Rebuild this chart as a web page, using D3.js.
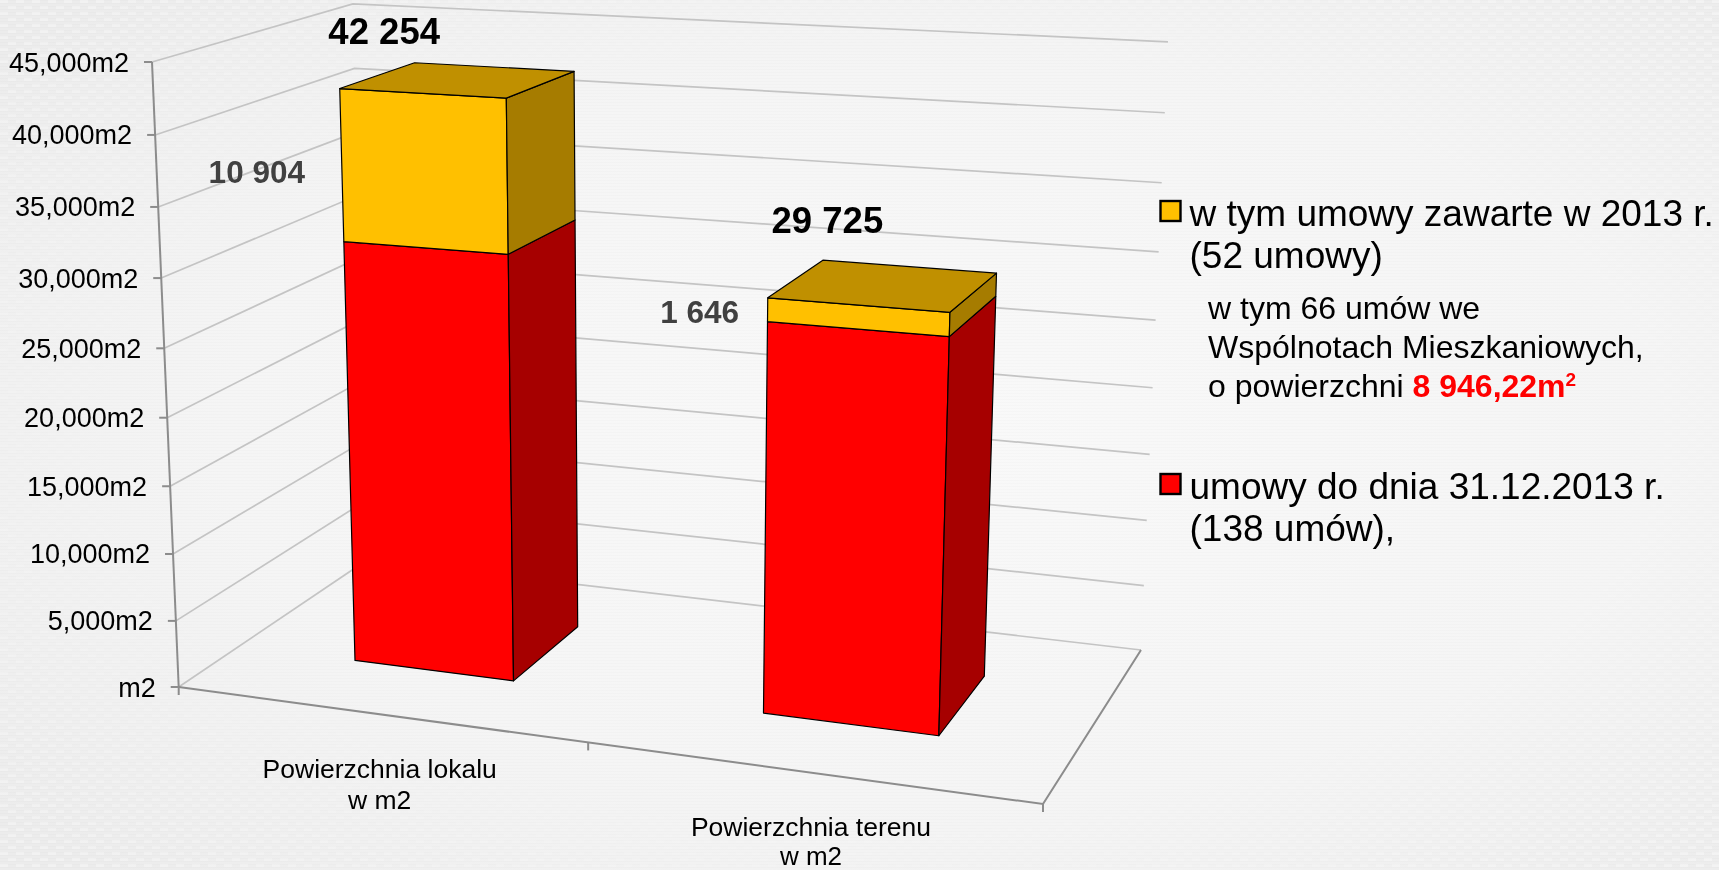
<!DOCTYPE html>
<html lang="en">
<head>
    <meta charset="UTF-8">
    <title>Powierzchnia lokalu i terenu</title>
    <script src="https://d3js.org/d3.v7.min.js"></script>
    <style>
        html, body { margin: 0; padding: 0; background: #efefef; overflow: hidden; }
        svg { display: block; filter: blur(0.55px); }
        text { font-family: "Liberation Sans", Arial, sans-serif; fill: #000; }
    </style>
</head>
<body>
    <svg width="1719" height="870"></svg>

    <script>
        // data
        const categories = ["Powierzchnia lokalu", "Powierzchnia terenu"];
        const categorySecondLine = ["w  m2", "w m2"];
        const untilEnd2013 = [31350, 28079];
        const signedIn2013 = [10904, 1646];
        const totalLabels = ["42 254", "29 725"];
        const partLabels = ["10 904", "1 646"];
        const tickValues = [0, 5000, 10000, 15000, 20000, 25000, 30000, 35000, 40000, 45000];

        const legendYellow = ["w tym umowy zawarte w 2013 r.", "(52 umowy)"];
        const legendNote = ["w tym 66 umów we", "Wspólnotach Mieszkaniowych,", "o powierzchni "];
        const legendNoteValue = "8 946,22m";
        const legendRed = ["umowy do dnia 31.12.2013 r.", "(138 umów),"];

        const svg = d3.select("svg");

        // background: soft vignette, fine horizontal stripes, faint weave only towards the edges
        const defs = svg.append("defs");
        const glow = defs.append("radialGradient").attr("id", "glow").attr("cx", "55%").attr("cy", "50%").attr("r", "70%");
        glow.append("stop").attr("offset", "0%").attr("stop-color", "#f9f9f9");
        glow.append("stop").attr("offset", "60%").attr("stop-color", "#f5f5f5");
        glow.append("stop").attr("offset", "100%").attr("stop-color", "#ececec");

        const stripes = defs.append("pattern").attr("id", "stripes").attr("width", 4).attr("height", 3).attr("patternUnits", "userSpaceOnUse");
        stripes.append("rect").attr("width", 4).attr("height", 1).attr("fill", "#000").attr("opacity", 0.012);

        const weave = defs.append("pattern").attr("id", "weave").attr("width", 16).attr("height", 12).attr("patternUnits", "userSpaceOnUse");
        weave.append("rect").attr("width", 8).attr("height", 3).attr("fill", "#fff").attr("opacity", 0.35);
        weave.append("rect").attr("x", 8).attr("y", 6).attr("width", 8).attr("height", 3).attr("fill", "#fff").attr("opacity", 0.35);

        const edgeFade = defs.append("radialGradient").attr("id", "edgeFade").attr("cx", "50%").attr("cy", "50%").attr("r", "70%");
        edgeFade.append("stop").attr("offset", "55%").attr("stop-color", "#000");
        edgeFade.append("stop").attr("offset", "100%").attr("stop-color", "#fff");
        defs.append("mask").attr("id", "edgeMask")
            .append("rect").attr("width", 1719).attr("height", 870).attr("fill", "url(#edgeFade)");

        svg.append("rect").attr("width", 1719).attr("height", 870).attr("fill", "url(#glow)");
        svg.append("rect").attr("width", 1719).attr("height", 870).attr("fill", "url(#stripes)");
        svg.append("rect").attr("width", 1719).attr("height", 870).attr("fill", "url(#weave)").attr("mask", "url(#edgeMask)");

        // scales work in the unit box of the 3d plot
        const x = d3.scaleBand().domain(categories).range([0, 1]).paddingInner(0.6).paddingOuter(0.3);
        const y = d3.scaleLinear().domain([0, 45000]).range([0, 1]);
        const depth = [0.3, 0.7];

        // perspective camera fitted to the plot corners
        function project(u, v, w) {
            const d = -0.09976 * u + 0.1293 * v - 0.0536 * w + 1;
            return [
                (760.25 * u + 235.75 * v - 34.85 * w + 178.7) / d,
                (36.8 * u - 54.6 * v - 628.3 * w + 687) / d
            ];
        }

        const line = pts => "M" + pts.map(p => p.join(",")).join("L");
        const face = pts => line(pts) + "Z";

        // gridlines on side wall and back wall
        const grid = svg.append("g");
        grid.selectAll("path").data(tickValues).enter().append("path")
            .attr("d", d => line([project(0, 0, y(d)), project(0, 1, y(d)), project(1, 1, y(d))]))
            .attr("fill", "none")
            .attr("stroke", "#c4c4c4")
            .attr("stroke-width", 1.7);

        // floor edges and value axis
        const axis = svg.append("g").attr("fill", "none").attr("stroke", "#8c8c8c").attr("stroke-width", 2);
        axis.append("path").attr("d", line([project(0, 0, 0), project(0, 0, 1)]));
        axis.append("path").attr("d", line([project(0, 0, 0), project(1, 0, 0), project(1, 1, 0)]));
        axis.selectAll(".ytick").data(tickValues).enter().append("path")
            .attr("class", "ytick")
            .attr("d", d => {
                const p = project(0, 0, y(d));
                return line([[p[0] - 8, p[1]], p]);
            });
        axis.selectAll(".xtick").data([0, 0.5, 1]).enter().append("path")
            .attr("class", "xtick")
            .attr("d", d => {
                const p = project(d, 0, 0);
                return line([p, [p[0], p[1] + 8]]);
            });

        // tick labels
        svg.append("g").selectAll("text").data(tickValues).enter().append("text")
            .attr("x", d => project(0, 0, y(d))[0] - 23)
            .attr("y", d => project(0, 0, y(d))[1] + 9.5)
            .attr("text-anchor", "end")
            .attr("font-size", 27)
            .attr("fill", "#000")
            .text(d => (d === 0 ? "" : d3.format(",")(d)) + "m2");

        // bars, stacked: red first, yellow on top
        const colours = [
            { front: "#ff0000", side: "#a60000", top: "#c00000" },
            { front: "#ffc000", side: "#a67c00", top: "#c09000" }
        ];

        function drawBox(g, cat, from, to, c, withTop) {
            const u0 = x(cat), u1 = x(cat) + x.bandwidth();
            const [v0, v1] = depth;
            const w0 = y(from), w1 = y(to);
            const parts = [
                [c.front, [project(u0, v0, w0), project(u1, v0, w0), project(u1, v0, w1), project(u0, v0, w1)]],
                [c.side, [project(u1, v0, w0), project(u1, v1, w0), project(u1, v1, w1), project(u1, v0, w1)]]
            ];
            if (withTop) {
                parts.push([c.top, [project(u0, v0, w1), project(u1, v0, w1), project(u1, v1, w1), project(u0, v1, w1)]]);
            }
            parts.forEach(([fill, pts]) => {
                g.append("path")
                    .attr("d", face(pts))
                    .attr("fill", fill)
                    .attr("stroke", "#000")
                    .attr("stroke-width", 1.2)
                    .attr("stroke-linejoin", "round");
            });
        }

        const bars = svg.append("g");
        categories.forEach((cat, i) => {
            drawBox(bars, cat, 0, untilEnd2013[i], colours[0], false);
            drawBox(bars, cat, untilEnd2013[i], untilEnd2013[i] + signedIn2013[i], colours[1], true);
        });

        // data labels, hand placed next to the bars like in the slide
        const labelAt = (i, du, w) => project(x(categories[i]) + x.bandwidth() * du, depth[0], y(w));

        svg.append("g").selectAll("text").data(totalLabels).enter().append("text")
            .attr("x", (d, i) => labelAt(i, 0.5, untilEnd2013[i] + signedIn2013[i])[0] - (i ? 30.5 : 38))
            .attr("y", (d, i) => labelAt(i, 0.5, untilEnd2013[i] + signedIn2013[i])[1] - (i ? 72 : 49))
            .attr("text-anchor", "middle")
            .attr("font-size", 36.5)
            .attr("font-weight", "bold")
            .text(d => d);

        svg.append("g").selectAll("text").data(partLabels).enter().append("text")
            .attr("x", (d, i) => labelAt(i, 0, untilEnd2013[i] + signedIn2013[i] / 2)[0] - (i ? 68 : 85))
            .attr("y", (d, i) => labelAt(i, 0, untilEnd2013[i] + signedIn2013[i] / 2)[1] + (i ? 13 : 17.5))
            .attr("text-anchor", "middle")
            .attr("font-size", 31.5)
            .attr("font-weight", "bold")
            .style("fill", "#404040")
            .text(d => d);

        // category labels, the second one sits right at the bottom edge
        const catLabels = svg.append("g").attr("text-anchor", "middle").attr("font-size", 26.5);
        categories.forEach((cat, i) => {
            const p = project(x(cat) + x.bandwidth() / 2, 0, 0);
            catLabels.append("text").attr("x", p[0] + 1.5).attr("y", p[1] + (i ? 63.7 : 63.5)).text(cat);
            catLabels.append("text").attr("x", p[0] + 1.5).attr("y", p[1] + (i ? 92.9 : 95))
                .attr("font-size", i ? 26 : 26.5).text(categorySecondLine[i]);
        });

        // legend
        const legend = svg.append("g");
        function swatch(top, fill) {
            legend.append("rect")
                .attr("x", 1160.5).attr("y", top).attr("width", 20).attr("height", 20)
                .attr("fill", fill).attr("stroke", "#000").attr("stroke-width", 2.4);
        }
        function legendLines(lines, left, baselines, size) {
            lines.forEach((t, i) => {
                legend.append("text").attr("x", left).attr("y", baselines[i]).attr("font-size", size).text(t);
            });
        }
        swatch(201, colours[1].front);
        swatch(474, colours[0].front);
        legendLines(legendYellow, 1189.5, [226, 268], 37);
        legendLines(legendRed, 1189.5, [499, 541], 37);

        legendLines(legendNote.slice(0, 2), 1208, [319, 358], 32);
        const noteLast = legend.append("text").attr("x", 1208).attr("y", 397).attr("font-size", 32);
        noteLast.append("tspan").text(legendNote[2]);
        noteLast.append("tspan").attr("font-weight", "bold").style("fill", "#ff0000").text(legendNoteValue);
        noteLast.append("tspan").attr("font-weight", "bold").attr("font-size", 19).attr("dy", -11).style("fill", "#ff0000").text("2");
    </script>
</body>
</html>
